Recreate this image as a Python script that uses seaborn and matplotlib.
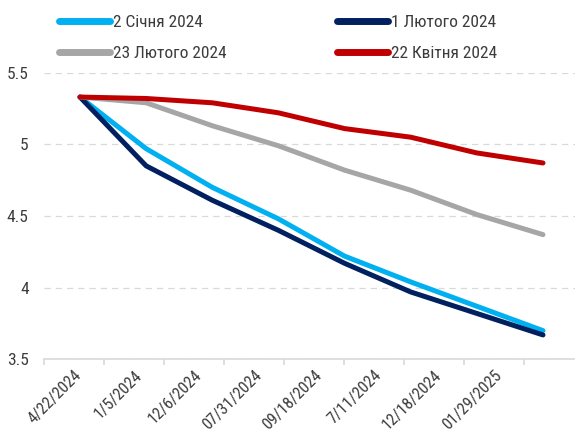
import matplotlib
matplotlib.use("Agg")
import matplotlib.pyplot as plt
from matplotlib import font_manager
import numpy as np
import pandas as pd
import seaborn as sns

# Observation dates (x-axis labels) and the expected-rate paths from each meeting
date_labels = ["4/22/2024", "1/5/2024", "12/6/2024", "07/31/2024",
               "09/18/2024", "7/11/2024", "12/18/2024", "01/29/2025"]
series_names = ["2 Січня 2024", "1 Лютого 2024", "23 Лютого 2024", "22 Квітня 2024"]
jan2 = [5.33, 4.97, 4.70, 4.48, 4.22, 4.04, 3.87, 3.70]
feb1 = [5.33, 4.85, 4.61, 4.40, 4.17, 3.97, 3.82, 3.67]
feb23 = [5.33, 5.29, 5.13, 4.99, 4.82, 4.68, 4.51, 4.37]
apr22 = [5.33, 5.32, 5.29, 5.22, 5.11, 5.05, 4.94, 4.87]
colors = ["#00B0F0", "#002060", "#A6A6A6", "#C00000"]

rows = []
for name, vals in zip(series_names, [jan2, feb1, feb23, apr22]):
    for i, v in enumerate(vals):
        rows.append({"idx": i, "value": v, "series": name})
df = pd.DataFrame(rows)

sns.set_theme(style="white")

# Prefer a condensed sans face when one is available
fonts = font_manager.fontManager.ttflist
names = {f.name for f in fonts}
preferred = ["Liberation Sans Narrow", "Roboto Condensed", "Open Sans Condensed",
             "Noto Sans Condensed", "DejaVu Sans Condensed"]
base = next((n for n in preferred if n in names), None)
if base is None:
    narrow = sorted(n for n in names if ("Narrow" in n or "Condensed" in n))
    base = narrow[0] if narrow else "Liberation Sans"
plt.rcParams["font.family"] = [base, "DejaVu Sans"]
text_color = "#3c3c3c"
grid_color = "#d9d9d9"

fig = plt.figure(figsize=(5.75, 4.34), dpi=100)
ax = fig.add_axes([44 / 575, 1 - 359.3 / 434, 1 - 44 / 575, (359.3 - 72.7) / 434])

sns.lineplot(data=df, x="idx", y="value", hue="series", hue_order=series_names,
             palette=colors, linewidth=3.6, ax=ax, legend=False,
             solid_capstyle="round", solid_joinstyle="round")

ax.set_xlim(-0.544, 7.484)
ax.set_ylim(3.5, 5.5)
ax.set_yticks([3.5, 4, 4.5, 5, 5.5])
ax.set_yticklabels(["3.5", "4", "4.5", "5", "5.5"])
ax.tick_params(axis="y", length=0, pad=11, labelsize=12.5, labelcolor=text_color)
ax.yaxis.grid(True, color=grid_color, linestyle=(0, (5, 4)), linewidth=0.9)
ax.set_axisbelow(True)
ax.set_xticks([])
ax.set_xlabel("")
ax.set_ylabel("")
for s in ["top", "right", "left"]:
    ax.spines[s].set_visible(False)
ax.spines["bottom"].set_color(grid_color)
ax.spines["bottom"].set_linewidth(1.2)

# Category axis carrying the date labels
cat = ax.twiny()
cat.set_xlim(0, 531 / 60)
cat.xaxis.set_ticks_position("bottom")
cat.xaxis.set_label_position("bottom")
cat.set_xticks(np.arange(len(date_labels)) + 0.5)
cat.set_xticklabels(date_labels, rotation=45, ha="right", rotation_mode="anchor",
                    fontsize=11.8, color=text_color)
cat.set_xticks(np.arange(len(date_labels) + 1), minor=True)
cat.tick_params(axis="x", which="major", length=0, pad=6)
cat.tick_params(axis="x", which="minor", length=4, width=1.2, color=grid_color)
for s in cat.spines.values():
    s.set_visible(False)

# Two legend columns, each placed on its own
handles = [plt.Line2D([], [], color=c, linewidth=5, solid_capstyle="round") for c in colors]
leg_kw = dict(loc="upper left", ncol=1, frameon=False, fontsize=12.5, handlelength=2.95,
              handletextpad=0.15, labelspacing=0.88, labelcolor=text_color,
              borderaxespad=0, borderpad=0)
fig.legend([handles[0], handles[2]], [series_names[0], series_names[2]],
           bbox_to_anchor=(59 / 575, 1 - 15 / 434), **leg_kw)
fig.legend([handles[1], handles[3]], [series_names[1], series_names[3]],
           bbox_to_anchor=(337 / 575, 1 - 15 / 434), **leg_kw)

fig.savefig("out.png", dpi=100)
